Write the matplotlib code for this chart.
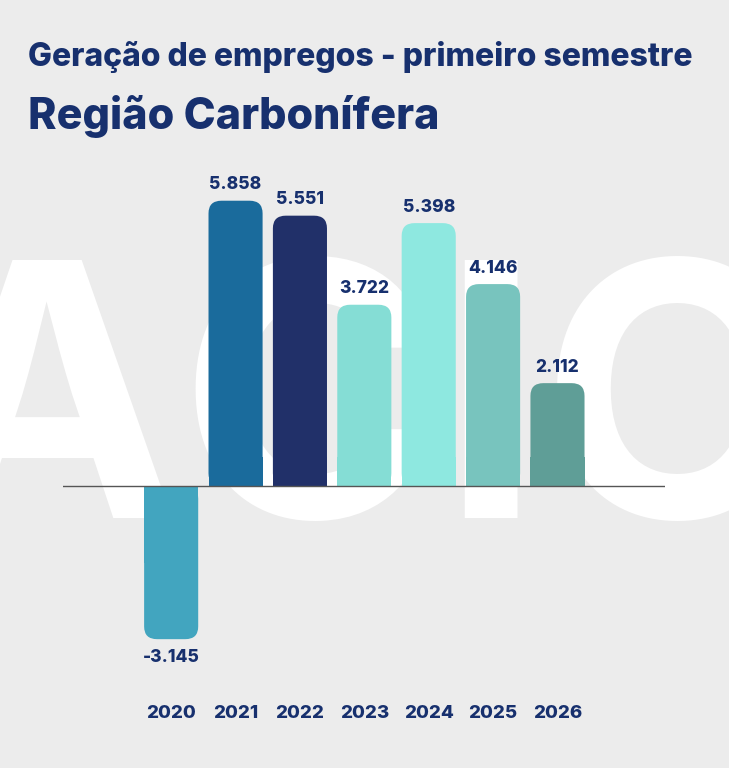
import matplotlib.pyplot as plt
from matplotlib.patches import FancyBboxPatch, Rectangle

years = ["2020", "2021", "2022", "2023", "2024", "2025", "2026"]
values = [-3.145, 5.858, 5.551, 3.722, 5.398, 4.146, 2.112]
labels = ["-3.145", "5.858", "5.551", "3.722", "5.398", "4.146", "2.112"]
colors = ["#42a5bf", "#1a6b9c", "#213069", "#85ddd5", "#8ee8e0", "#78c4be", "#5f9e97"]

navy = "#17306e"
bg = "#ececec"
W, H = 729, 768
plt.rcParams['font.family'] = ['Inter', 'DejaVu Sans']

fig = plt.figure(figsize=(W / 100, H / 100), dpi=100, facecolor=bg)

# watermark (behind everything)
fig.text(0.5, 1 - 425 / H, "ACIO", ha="center", va="center", fontsize=255,
         fontweight="bold", color="white", zorder=-5)

fig.text(28 / W, 1 - 57 / H, "Geração de empregos - primeiro semestre", fontsize=23,
         fontweight="heavy", color=navy, va="center")
fig.text(28 / W, 1 - 117 / H, "Região Carbonífera", fontsize=31,
         fontweight="heavy", color=navy, va="center")

px_per_unit = 48.7
top_px, bot_px, base_px = 170, 650, 486
ax = fig.add_axes([63 / W, 1 - bot_px / H, (665 - 63) / W, (bot_px - top_px) / H])
ax.set_zorder(2)
ax.set_facecolor("none")
ax.set_xlim(-1.68, 7.67)
ax.set_ylim(-(bot_px - base_px) / px_per_unit, (base_px - top_px) / px_per_unit)
ax.axis("off")

bw = 0.84
for i, (v, lab, c) in enumerate(zip(values, labels, colors)):
    lo, hi = min(0, v), max(0, v)
    r = 0.2
    ax.add_patch(FancyBboxPatch((i - bw / 2 + r, lo + r * 1.3), bw - 2 * r, hi - lo - 2 * r * 1.3,
                                boxstyle=f"round,pad={r}", mutation_aspect=1.3,
                                fc=c, ec="none", zorder=2))
    # square off the end at the baseline
    if v > 0:
        ax.add_patch(Rectangle((i - bw / 2, 0), bw, min(0.6, v / 2), fc=c, ec="none", zorder=2))
        ax.text(i, v + 0.15, lab, ha="center", va="bottom", fontsize=12.5,
                fontweight="heavy", color=navy)
    else:
        ax.add_patch(Rectangle((i - bw / 2, v / 2), bw, -v / 2, fc=c, ec="none", zorder=2))
        ax.text(i, v - 0.2, lab, ha="center", va="top", fontsize=12.5,
                fontweight="heavy", color=navy)
    ax.text(i, -(713 - base_px) / px_per_unit, years[i], ha="center", va="center",
            fontsize=13.5, fontweight="heavy", color=navy, clip_on=False)

ax.axhline(0, color="#555555", lw=1, zorder=3)

fig.savefig("out.png", dpi=100, facecolor=bg)
